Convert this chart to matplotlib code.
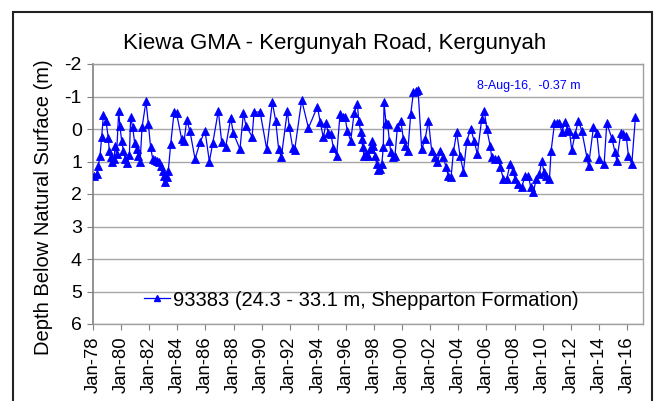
import matplotlib
matplotlib.use("Agg")
import matplotlib.pyplot as plt
import pandas as pd
from matplotlib.patches import Rectangle
from matplotlib.lines import Line2D

plt.rcParams['font.family'] = ['Liberation Sans', 'DejaVu Sans']

title = "Kiewa GMA - Kergunyah Road, Kergunyah"
ylabel = "Depth Below Natural Surface (m)"
series_label = "93383 (24.3 - 33.1 m, Shepparton Formation)"
annotation = "8-Aug-16,  -0.37 m"

# decimal years of each reading
years = [
    1978.07, 1978.26, 1978.38, 1978.50, 1978.62, 1978.74, 1978.93,
    1979.09, 1979.16, 1979.26, 1979.38, 1979.49, 1979.59, 1979.68, 1979.83, 1979.92,
    1980.04, 1980.16, 1980.30, 1980.44, 1980.59, 1980.68, 1980.82, 1980.97,
    1981.11, 1981.23, 1981.35, 1981.49, 1981.77, 1981.94,
    1982.10, 1982.25, 1982.41, 1982.58, 1982.72, 1982.86, 1982.96,
    1983.05, 1983.15, 1983.24, 1983.36, 1983.53, 1983.77, 1983.95,
    1984.31, 1984.48, 1984.67, 1984.90, 1985.26, 1985.62, 1985.97,
    1986.28, 1986.52, 1986.92, 1987.16, 1987.44, 1987.80, 1987.99,
    1988.46, 1988.70, 1988.89, 1989.32, 1989.46, 1989.89,
    1990.36, 1990.76, 1991.00, 1991.21, 1991.40, 1991.83, 1991.97,
    1992.21, 1992.35, 1992.85, 1993.33, 1993.97,
    1994.16, 1994.39, 1994.58, 1994.75, 1994.92,
    1995.11, 1995.34, 1995.58, 1995.77, 1995.94,
    1996.10, 1996.34, 1996.58, 1996.81, 1996.91,
    1997.05, 1997.12, 1997.19, 1997.29, 1997.43, 1997.60, 1997.72, 1997.83, 1997.95,
    1998.07, 1998.19, 1998.31, 1998.43, 1998.55, 1998.66, 1998.71, 1998.85, 1998.97,
    1999.09, 1999.19, 1999.33, 1999.49, 1999.66, 1999.90,
    2000.09, 2000.23, 2000.40, 2000.61, 2000.80, 2000.99, 2001.13,
    2001.39, 2001.63, 2001.87, 2002.10, 2002.34, 2002.51, 2002.70, 2002.94,
    2003.12, 2003.29, 2003.48, 2003.65, 2003.88, 2004.12, 2004.36, 2004.60, 2004.88,
    2005.12, 2005.35, 2005.66, 2005.85, 2006.02, 2006.26, 2006.37, 2006.61, 2006.85, 2006.97,
    2007.21, 2007.44, 2007.68, 2007.87, 2008.04, 2008.27, 2008.51, 2008.75, 2008.98,
    2009.15, 2009.34, 2009.53, 2009.77, 2009.93, 2010.10, 2010.24, 2010.48, 2010.60, 2010.84,
    2011.00, 2011.19, 2011.36, 2011.59, 2011.76, 2011.90, 2012.07, 2012.31, 2012.54, 2012.78,
    2013.14, 2013.26, 2013.61, 2013.85, 2014.04, 2014.37, 2014.56, 2014.92,
    2015.15, 2015.27, 2015.56, 2015.75, 2015.94, 2016.10, 2016.34, 2016.60,
]

# depth below natural surface (m)
depth = [
    1.44, 1.38, 1.13, 0.82, 0.24, -0.44, -0.24,
    0.28, 0.67, 0.87, 1.03, 0.92, 0.51, 0.77, -0.54, -0.08,
    0.36, 0.67, 0.92, 1.06, 0.79, -0.38, -0.05, 0.44,
    0.62, 0.82, 1.03, -0.05, -0.85, -0.15,
    0.56, 0.92, 0.95, 0.97, 1.03, 1.13, 1.28,
    1.44, 1.64, 1.49, 1.28, 0.46, -0.51, -0.48,
    0.31, 0.38, -0.28, 0.07, 0.92, 0.41, 0.05,
    1.00, 0.44, -0.56, 0.41, 0.56, -0.34, 0.13,
    0.62, -0.48, -0.10, 0.24, -0.51, -0.53,
    0.62, -0.82, -0.26, 0.62, 0.87, -0.56, -0.05,
    0.58, 0.65, -0.89, -0.03, -0.69,
    -0.23, 0.26, -0.17, 0.13, 0.15,
    0.58, 0.82, -0.46, -0.38, -0.36,
    0.07, 0.36, -0.48, -0.77, -0.26,
    0.10, 0.31, 0.56, 0.82, 0.77, 0.82, 0.62, 0.36, 0.51,
    0.82, 1.08, 1.26, 1.23, 1.08, 0.56, -0.82, -0.17, -0.15,
    0.36, 0.72, 0.87, 0.82, -0.05, -0.26,
    0.31, 0.51, 0.69, -0.46, -1.13, -1.18, -1.20,
    0.62, 0.31, -0.26, 0.67, 0.87, 1.03, 0.69, 0.87,
    1.18, 1.44, 1.49, 0.69, 0.10, 0.82, 1.31, 0.36, 0.00,
    0.36, 0.77, -0.31, -0.56, 0.00, 0.51, 0.87, 0.92, 0.92, 1.16,
    1.54, 1.54, 1.08, 1.28, 1.54, 1.69, 1.79, 1.44, 1.44,
    1.79, 1.95, 1.54, 1.38, 0.97, 1.33, 1.44, 1.54, 0.67, -0.17,
    -0.17, -0.20, 0.10, -0.23, 0.03, 0.05, 0.65, 0.15, -0.26, 0.05,
    0.87, 1.13, -0.05, 0.13, 0.92, 1.08, -0.17, 0.28,
    0.72, 0.97, 0.13, 0.15, 0.20, 0.82, 1.08, -0.37,
]

yticks = [-2, -1, 0, 1, 2, 3, 4, 5, 6]
xtick_years = list(range(1978, 2017, 2))


def dec_to_date(y):
    yr = int(y)
    start = pd.Timestamp(yr, 1, 1)
    end = pd.Timestamp(yr + 1, 1, 1)
    return start + (end - start) * (y - yr)


dates = [dec_to_date(y) for y in years]
xticks = [pd.Timestamp(y, 1, 1) for y in xtick_years]
xticklabels = [d.strftime('%b-%y') for d in xticks]

W, H = 654, 401
fig = plt.figure(figsize=(W / 100, H / 100), dpi=100)
L, R, T, B = 93, 643, 64, 324
ax = fig.add_axes([L / W, 1 - B / H, (R - L) / W, (B - T) / H])

blue = '#0000FF'
ax.plot(dates, depth, color=blue, lw=0.9, marker='^', ms=5.5,
        markeredgewidth=0.6, markeredgecolor=blue, zorder=3)

ax.set_ylim(6, -2)
ax.set_yticks(yticks)
ax.set_yticklabels([str(v) for v in yticks])
ax.set_xlim(pd.Timestamp(1978, 1, 1), pd.Timestamp(2017, 2, 20))
ax.set_xticks(xticks)
ax.set_xticklabels(xticklabels, rotation=90)

ax.yaxis.grid(True, color='#a6a6a6', lw=1.0, zorder=0)
ax.set_axisbelow(True)
for s in ['top', 'right', 'bottom']:
    ax.spines[s].set_color('#a0a0a0')
    ax.spines[s].set_linewidth(1.0)
ax.spines['left'].set_color('#808080')
ax.spines['left'].set_linewidth(1.2)

ax.tick_params(axis='both', direction='out', length=4, color='#808080',
               labelcolor='black')
ax.tick_params(axis='y', pad=4, labelsize=14)
ax.tick_params(axis='x', pad=5, labelsize=13.3)

fig.text(335 / W, 1 - 44 / H, title, ha='center', va='center', fontsize=16)
fig.text(44 / W, 1 - 207 / H, ylabel, rotation=90, ha='center', va='center',
         fontsize=14.5)
fig.text(529 / W, 1 - 86 / H, annotation, ha='center', va='center',
         fontsize=9, color=blue)

handle = Line2D([], [], color=blue, lw=0.9, marker='^', ms=4)
ax.legend([handle], [series_label], loc='center',
          bbox_to_anchor=((361 - L) / (R - L), (B - 300) / (B - T)),
          frameon=False, fontsize=14.5, handlelength=1.3, handletextpad=0.15,
          borderpad=0)

fig.add_artist(Rectangle((13 / W, -0.1), (652 - 13) / W, 1 - 12 / H + 0.1,
                         transform=fig.transFigure, fill=False,
                         edgecolor='#222222', lw=1.5))

fig.savefig('out.png', dpi=100)
